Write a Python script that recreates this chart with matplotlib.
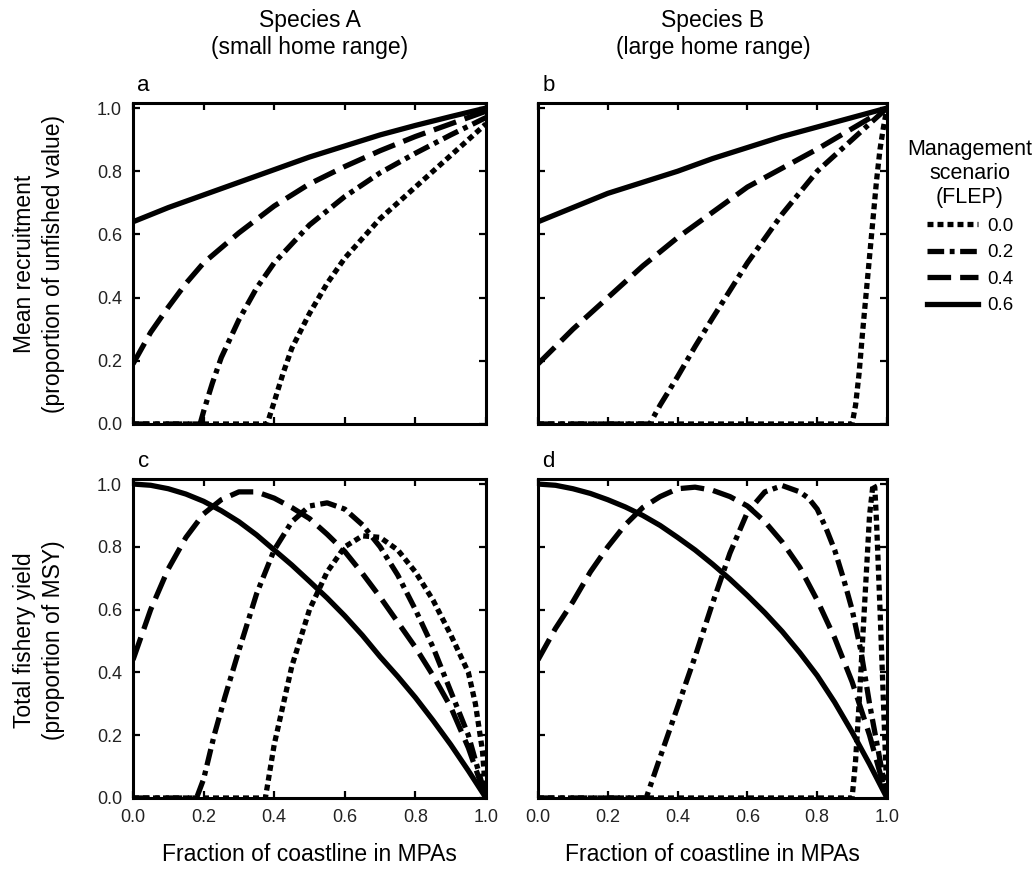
import matplotlib
matplotlib.use('Agg')
import matplotlib.pyplot as plt
from matplotlib.lines import Line2D

plt.rcParams['font.family'] = ['Liberation Sans', 'DejaVu Sans']
plt.rcParams['lines.scale_dashes'] = False

# ---- data ----
flep_labels = ['0.0', '0.2', '0.4', '0.6']
grid10 = [0.0, 0.1, 0.2, 0.3, 0.4, 0.5, 0.6, 0.7, 0.8, 0.9, 1.0]
grid20 = [0.0, 0.05, 0.1, 0.15, 0.2, 0.25, 0.3, 0.35, 0.4, 0.45, 0.5,
          0.55, 0.6, 0.65, 0.7, 0.75, 0.8, 0.85, 0.9, 0.95, 1.0]

# a: species A, mean recruitment
a06_x = grid10
a06_y = [0.64, 0.685, 0.725, 0.765, 0.805, 0.845, 0.88, 0.915, 0.945, 0.973, 1.0]
a04_x = [0, 0.05, 0.1, 0.15, 0.2, 0.3, 0.4, 0.5, 0.6, 0.7, 0.8, 0.9, 1.0]
a04_y = [0.19, 0.29, 0.37, 0.445, 0.51, 0.605, 0.69, 0.76, 0.815, 0.865, 0.91, 0.95, 0.99]
a02_x = [0, 0.19, 0.2, 0.225, 0.25, 0.3, 0.35, 0.4, 0.5, 0.6, 0.7, 0.8, 0.9, 1.0]
a02_y = [0, 0, 0.04, 0.13, 0.21, 0.33, 0.43, 0.51, 0.63, 0.72, 0.795, 0.857, 0.915, 0.97]
a00_x = [0, 0.38, 0.4, 0.425, 0.45, 0.5, 0.55, 0.6, 0.7, 0.8, 0.9, 1.0]
a00_y = [0, 0, 0.07, 0.16, 0.24, 0.35, 0.445, 0.525, 0.65, 0.75, 0.85, 0.95]

# b: species B, mean recruitment
b06_x = grid10
b06_y = [0.64, 0.685, 0.73, 0.765, 0.80, 0.84, 0.875, 0.91, 0.94, 0.97, 1.0]
b04_x = grid10
b04_y = [0.19, 0.30, 0.40, 0.50, 0.59, 0.67, 0.75, 0.81, 0.87, 0.935, 1.0]
b02_x = [0, 0.32, 0.35, 0.4, 0.45, 0.5, 0.6, 0.7, 0.8, 0.9, 0.95, 1.0]
b02_y = [0, 0, 0.06, 0.15, 0.245, 0.335, 0.51, 0.665, 0.80, 0.90, 0.95, 1.0]
b00_x = [0, 0.9, 0.91, 0.92, 0.93, 0.94, 0.95, 0.96, 0.97, 0.98, 0.99, 1.0]
b00_y = [0, 0, 0.06, 0.16, 0.29, 0.41, 0.53, 0.65, 0.77, 0.87, 0.94, 1.0]

# c: species A, total fishery yield
c06_x = grid20
c06_y = [1.0, 0.996, 0.985, 0.968, 0.945, 0.915, 0.88, 0.838, 0.79, 0.742, 0.69,
         0.637, 0.58, 0.518, 0.45, 0.387, 0.32, 0.247, 0.17, 0.087, 0.0]
c04_x = grid20
c04_y = [0.44, 0.6, 0.73, 0.83, 0.905, 0.95, 0.975, 0.975, 0.955, 0.925, 0.89, 0.84, 0.785, 0.715,
         0.64, 0.56, 0.48, 0.39, 0.29, 0.16, 0.0]
c02_x = [0, 0.18, 0.2, 0.23, 0.26, 0.3, 0.35, 0.4, 0.45, 0.5, 0.55, 0.6, 0.65, 0.7,
         0.75, 0.8, 0.85, 0.9, 0.95, 1.0]
c02_y = [0, 0, 0.06, 0.2, 0.32, 0.47, 0.65, 0.79, 0.88, 0.93, 0.94, 0.92, 0.87, 0.8,
         0.71, 0.6, 0.48, 0.34, 0.2, 0.0]
c00_x = [0, 0.375, 0.4, 0.45, 0.5, 0.55, 0.6, 0.65, 0.7, 0.75, 0.8, 0.85, 0.9, 0.95, 0.97, 0.99, 1.0]
c00_y = [0, 0, 0.17, 0.42, 0.6, 0.72, 0.8, 0.835, 0.83, 0.79, 0.72, 0.63, 0.52, 0.4, 0.3, 0.15, 0.0]

# d: species B, total fishery yield
d06_x = grid20
d06_y = [1.0, 0.996, 0.985, 0.97, 0.95, 0.927, 0.9, 0.868, 0.83, 0.79, 0.745,
         0.697, 0.645, 0.59, 0.53, 0.463, 0.39, 0.305, 0.21, 0.108, 0.0]
d04_x = grid20
d04_y = [0.44, 0.54, 0.625, 0.72, 0.8, 0.87, 0.925, 0.96, 0.985, 0.99, 0.98, 0.96, 0.93, 0.88,
         0.815, 0.735, 0.63, 0.51, 0.37, 0.2, 0.0]
d02_x = [0, 0.31, 0.35, 0.4, 0.45, 0.5, 0.55, 0.6, 0.65, 0.7, 0.75, 0.775, 0.8, 0.825,
         0.85, 0.875, 0.9, 0.925, 0.95, 0.98, 1.0]
d02_y = [0, 0, 0.13, 0.29, 0.45, 0.62, 0.78, 0.91, 0.975, 0.995, 0.975, 0.955, 0.92, 0.86,
         0.79, 0.7, 0.6, 0.47, 0.3, 0.12, 0.0]
d00_x = [0, 0.9, 0.91, 0.92, 0.93, 0.94, 0.95, 0.96, 0.965, 0.97, 0.98, 0.99, 1.0]
d00_y = [0, 0, 0.12, 0.3, 0.5, 0.7, 0.9, 1.0, 0.99, 0.88, 0.6, 0.3, 0.0]

# line styles for FLEP 0.0, 0.2, 0.4, 0.6 (in points)
styles = [(0, (4.3, 2.9)),
          (0, (12, 4, 3.5, 4)),
          (0, (17, 6.5)),
          '-']
LW = 3.8

fig = plt.figure(figsize=(10.36, 8.69), dpi=100)
W, H = 1036, 869

def make_ax(l, r, t, b):
    return fig.add_axes([l / W, 1 - b / H, (r - l) / W, (b - t) / H])

ax_a = make_ax(133, 486, 103, 424)
ax_b = make_ax(538, 887, 103, 424)
ax_c = make_ax(133, 486, 479, 798)
ax_d = make_ax(538, 887, 479, 798)

panels = [
    (ax_a, 'a', [(a00_x, a00_y), (a02_x, a02_y), (a04_x, a04_y), (a06_x, a06_y)]),
    (ax_b, 'b', [(b00_x, b00_y), (b02_x, b02_y), (b04_x, b04_y), (b06_x, b06_y)]),
    (ax_c, 'c', [(c00_x, c00_y), (c02_x, c02_y), (c04_x, c04_y), (c06_x, c06_y)]),
    (ax_d, 'd', [(d00_x, d00_y), (d02_x, d02_y), (d04_x, d04_y), (d06_x, d06_y)]),
]

ticks = [0.0, 0.2, 0.4, 0.6, 0.8, 1.0]
for ax, letter, series in panels:
    for (x, y), ls in zip(series, styles):
        ax.plot(x, y, color='black', lw=LW, linestyle=ls, solid_capstyle='butt',
                solid_joinstyle='round')
    ax.set_xlim(0, 1.0)
    ax.set_ylim(0, 1.016)
    ax.set_xticks(ticks)
    ax.set_yticks(ticks)
    ax.set_xticklabels(['%.1f' % t for t in ticks])
    ax.set_yticklabels(['%.1f' % t for t in ticks])
    ax.tick_params(direction='in', length=5, width=1.6, top=True, right=True,
                   labelsize=13, pad=8, colors='black', labelcolor='#222222')
    for sp in ax.spines.values():
        sp.set_linewidth(2.2)
    ax.text(0.03, 1.055, letter, transform=ax.transAxes, fontsize=16,
            ha='center', va='center')

ax_a.tick_params(labelbottom=False)
ax_b.tick_params(labelbottom=False, labelleft=False)
ax_d.tick_params(labelleft=False)

for ax in (ax_c, ax_d):
    ax.set_xlabel('Fraction of coastline in MPAs', fontsize=16.5, labelpad=12)

fig.text(39 / W, 1 - 264 / H, 'Mean recruitment\n(proportion of unfished value)',
         rotation=90, ha='center', va='center', fontsize=16.5, linespacing=1.35)
fig.text(39 / W, 1 - 640 / H, 'Total fishery yield\n(proportion of MSY)',
         rotation=90, ha='center', va='center', fontsize=16.5, linespacing=1.35)

fig.text(310 / W, 1 - 34 / H, 'Species A\n(small home range)',
         ha='center', va='center', fontsize=16.5, linespacing=1.2)
fig.text(713 / W, 1 - 34 / H, 'Species B\n(large home range)',
         ha='center', va='center', fontsize=16.5, linespacing=1.2)

handles = [Line2D([], [], color='black', lw=LW, linestyle=ls) for ls in styles]
leg = fig.legend(handles, flep_labels, loc='upper center',
                 bbox_to_anchor=(970 / W, 1 - 122 / H),
                 title='Management\nscenario\n(FLEP)', title_fontsize=15.5,
                 fontsize=13.5, frameon=False, handlelength=2.7,
                 handletextpad=0.5, labelspacing=0.5)
leg.get_title().set_multialignment('center')

fig.savefig('out.png', dpi=100)
